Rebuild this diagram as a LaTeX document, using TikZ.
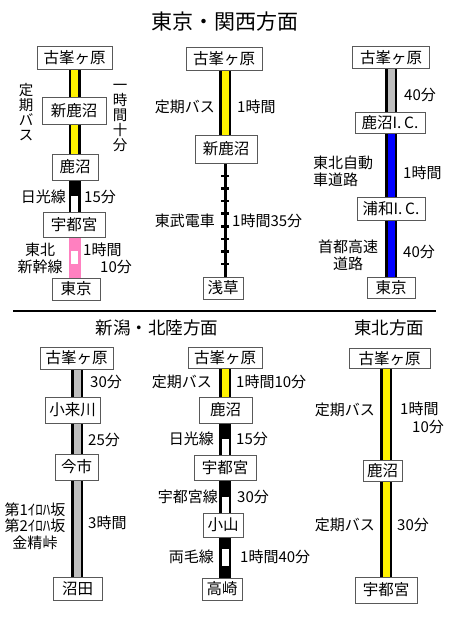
\documentclass[tikz,border=0pt]{standalone}
\usepackage{fontspec}
\setmainfont{Noto Sans CJK JP}
\usetikzlibrary{backgrounds,calc}
\definecolor{shpink}{RGB}{255,128,192}
\definecolor{rgray}{RGB}{190,190,190}
\newcommand\railseg[4]{%
  \draw[rout] (#1|-#2.south) -- (#1|-#3.north);
  \draw[rin,#4] (#1|-#2.south) -- (#1|-#3.north);}
\newcommand\jrseg[3]{%
  \draw[rout] (#1|-#2.south) -- (#1|-#3.north);
  \draw[rin,white] ($(#1|-#2.south)!0.5!(#1|-#3.north)$) -- (#1|-#3.north);}
\begin{document}
\begin{tikzpicture}[x=1pt,y=-1pt,
  stn/.style={draw=black!65, line width=0.8pt, fill=white, inner sep=0pt, font=\fontsize{15.5}{15.5}\selectfont},
  lbl/.style={inner sep=0pt, font=\fontsize{15}{16.5}\selectfont},
  vlbl/.style={inner sep=0pt, align=center, font=\fontsize{14.5}{15}\selectfont},
  ttl/.style={inner sep=0pt},
  rout/.style={line width=12pt, black},
  rin/.style={line width=7pt},
  ]
\useasboundingbox (0,0) rectangle (450,620);
% titles
\node[ttl, font=\fontsize{21}{21}\selectfont] (t1) at (225,22) {東京・関西方面};
\node[ttl, font=\fontsize{17.5}{18}\selectfont] (t2) at (157,328) {新潟・北陸方面};
\node[ttl, font=\fontsize{17.5}{18}\selectfont] (t3) at (389,328) {東北方面};
\coordinate (s1) at (13,311);
\coordinate (s2) at (436,311);
\draw[line width=1.5pt] (s1) -- (s2);
% column x positions
\coordinate (xa) at (74.5,0);
\coordinate (xb) at (225,0);
\coordinate (xc) at (391,0);
\coordinate (xd) at (77,0);
\coordinate (xe) at (225,0);
\coordinate (xf) at (386,0);
% ---- top column 1
\node[stn, minimum width=75pt, minimum height=23pt] (A1) at (74.5,57.5) {古峯ヶ原};
\node[stn, minimum width=64pt, minimum height=27pt] (A2) at (74,110.5) {新鹿沼};
\node[stn, minimum width=46pt, minimum height=26pt] (A3) at (75,167) {鹿沼};
\node[stn, minimum width=62pt, minimum height=25pt] (A4) at (74,224.5) {宇都宮};
\node[stn, minimum width=48pt, minimum height=22pt] (A5) at (76,289) {東京};
\node[vlbl] (la1) at (26,112) {定\\期\\バ\\ス};
\node[vlbl] (la2) at (120,117.5) {一\\時\\間\\十\\分};
\node[lbl, anchor=east] (la3) at (66,197) {日光線};
\node[lbl, anchor=west] (la4) at (84,197) {15分};
\node[lbl, align=center] (la5) at (40,258.5) {東北\\新幹線};
\node[lbl, anchor=west] (la6) at (83,250) {1時間};
\node[lbl, anchor=west] (la7) at (100,267) {10分};
% ---- top column 2
\node[stn, minimum width=76pt, minimum height=23pt] (B1) at (224,58.5) {古峯ヶ原};
\node[stn, minimum width=62pt, minimum height=28pt] (B2) at (226,149) {新鹿沼};
\node[stn, minimum width=40pt, minimum height=22pt] (B3) at (223,288) {浅草};
\node[lbl, anchor=east] (lb1) at (215,107) {定期バス};
\node[lbl, anchor=west] (lb2) at (237,107) {1時間};
\node[lbl, anchor=east] (lb3) at (215,221) {東武電車};
\node[lbl, anchor=west] (lb4) at (232,221) {1時間35分};
% ---- top column 3
\node[stn, minimum width=77pt, minimum height=22pt] (C1) at (391,57.5) {古峯ヶ原};
\node[stn, minimum width=70pt, minimum height=21pt] (C2) at (390,123) {鹿沼I.\,C.};
\node[stn, minimum width=68pt, minimum height=23pt] (C3) at (391,208.5) {浦和I.\,C.};
\node[stn, minimum width=48pt, minimum height=21pt] (C4) at (391,287.5) {東京};
\node[lbl, anchor=west] (lc1) at (404,95) {40分};
\node[lbl, anchor=west, align=left] (lc2) at (313,171.5) {東北自動\\車道路};
\node[lbl, anchor=west] (lc3) at (403,173) {1時間};
\node[lbl, align=center] (lc4) at (348,255.5) {首都高速\\道路};
\node[lbl, anchor=west] (lc5) at (403,252) {40分};
% ---- bottom column 1
\node[stn, minimum width=73pt, minimum height=22pt] (D1) at (76.5,358) {古峯ヶ原};
\node[stn, minimum width=55pt, minimum height=26pt] (D2) at (72.5,410) {小来川};
\node[stn, minimum width=43pt, minimum height=26pt] (D3) at (76.5,467) {今市};
\node[stn, minimum width=49pt, minimum height=23pt] (D4) at (77.5,588.5) {沼田};
\node[lbl, anchor=west] (ld1) at (90,382) {30分};
\node[lbl, anchor=west] (ld2) at (88,440) {25分};
\node[lbl, align=center] (ld3) at (35,526) {第1ｲﾛﾊ坂\\第2ｲﾛﾊ坂\\金精峠};
\node[lbl, anchor=west] (ld4) at (88,523) {3時間};
% ---- bottom column 2
\node[stn, minimum width=74pt, minimum height=21pt] (E1) at (225,357.5) {古峯ヶ原};
\node[stn, minimum width=53pt, minimum height=26pt] (E2) at (225.5,410) {鹿沼};
\node[stn, minimum width=62pt, minimum height=25pt] (E3) at (225,467.5) {宇都宮};
\node[stn, minimum width=40pt, minimum height=24pt] (E4) at (223,525) {小山};
\node[stn, minimum width=40pt, minimum height=22pt] (E5) at (222,589) {高崎};
\node[lbl, anchor=east] (le1) at (212,382) {定期バス};
\node[lbl, anchor=west] (le2) at (236,382) {1時間10分};
\node[lbl, anchor=east] (le3) at (214,439) {日光線};
\node[lbl, anchor=west] (le4) at (236,439) {15分};
\node[lbl, anchor=east] (le5) at (218,497) {宇都宮線};
\node[lbl, anchor=west] (le6) at (237,497) {30分};
\node[lbl, anchor=east] (le7) at (214,557) {両毛線};
\node[lbl, anchor=west] (le8) at (240,557) {1時間40分};
% ---- bottom column 3
\node[stn, minimum width=81pt, minimum height=20pt] (F1) at (389.5,358.5) {古峯ヶ原};
\node[stn, minimum width=39pt, minimum height=21pt] (F2) at (382.5,470.5) {鹿沼};
\node[stn, minimum width=62pt, minimum height=26pt] (F3) at (386,590) {宇都宮};
\node[lbl, anchor=east] (lf1) at (375,410) {定期バス};
\node[lbl, anchor=west] (lf2) at (400,409) {1時間};
\node[lbl, anchor=west] (lf3) at (412,427) {10分};
\node[lbl, anchor=east] (lf4) at (375,525) {定期バス};
\node[lbl, anchor=west] (lf5) at (397,525) {30分};
% ---- rails
\begin{pgfonlayer}{background}
  \railseg{xa}{A1}{A2}{yellow}
  \railseg{xa}{A2}{A3}{yellow}
  \jrseg{xa}{A3}{A4}
  \draw[line width=12pt, shpink] (xa|-A4.south) -- (xa|-A5.north);
  \draw[rin, white] ($(xa|-A4.south)!0.34!(xa|-A5.north)$) -- ($(xa|-A4.south)!0.66!(xa|-A5.north)$);
  \railseg{xb}{B1}{B2}{yellow}
  \draw[line width=3pt] (xb|-B2.south) -- (xb|-B3.north);
  \foreach \i in {1,...,8}
    \draw[line width=2.5pt] ($(xb|-B2.south)!\i/9!(xb|-B3.north)$) +(-4,0) -- +(4,0);
  \railseg{xc}{C1}{C2}{rgray}
  \railseg{xc}{C2}{C3}{blue}
  \railseg{xc}{C3}{C4}{blue}
  \railseg{xd}{D1}{D2}{rgray}
  \railseg{xd}{D2}{D3}{rgray}
  \railseg{xd}{D3}{D4}{rgray}
  \railseg{xe}{E1}{E2}{yellow}
  \jrseg{xe}{E2}{E3}
  \jrseg{xe}{E3}{E4}
  \draw[rout] (xe|-E4.south) -- (xe|-E5.north);
  \draw[rin, white] ($(xe|-E4.south)!0.3!(xe|-E5.north)$) -- ($(xe|-E4.south)!0.7!(xe|-E5.north)$);
  \railseg{xf}{F1}{F2}{yellow}
  \railseg{xf}{F2}{F3}{yellow}
\end{pgfonlayer}
\end{tikzpicture}
\end{document}
